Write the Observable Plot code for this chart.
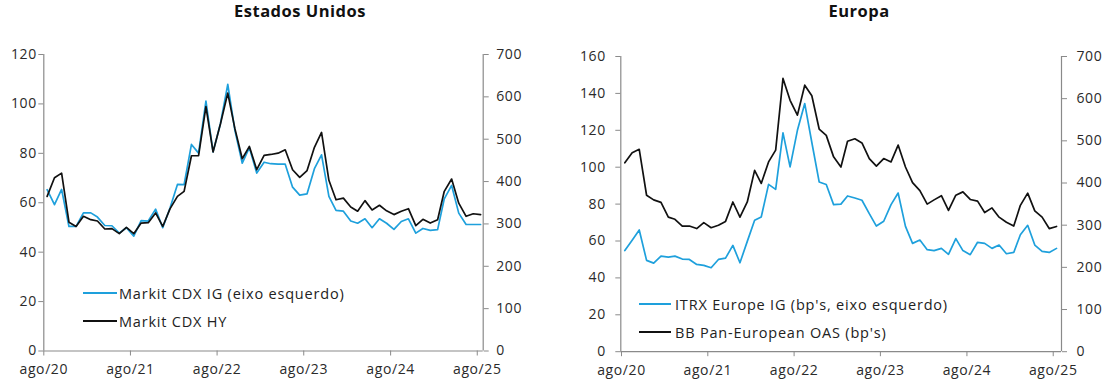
<!DOCTYPE html>
<html><head><meta charset="utf-8">
<script src="https://cdn.jsdelivr.net/npm/d3@7"></script>
<script src="https://cdn.jsdelivr.net/npm/@observablehq/plot@0.6"></script>
<style>
body{margin:0;background:#fff;font-family:"Open Sans",sans-serif;color:#222;}
#wrap{position:relative;width:1110px;height:385px;overflow:hidden;}
.title{position:absolute;top:0px;font-weight:bold;font-size:16.5px;line-height:22px;letter-spacing:0.5px;transform:translateX(-50%);white-space:nowrap;color:#111;}
.panel{position:absolute;top:30px;}
.leg{position:absolute;display:flex;align-items:center;height:20px;font-size:14.5px;letter-spacing:0.8px;white-space:nowrap;color:#222;}
.leg .sw{height:0;border-top-style:solid;border-top-width:2px;}
</style>
</head><body>
<div id="wrap"></div>
<script>
// ---- data ----
const startYear = 2020, startMonth = 7; // ago/2020 (0-based month)
const nMonths = 61;
const tickYears = [2020, 2021, 2022, 2023, 2024, 2025];
const tickLabels = ["ago/20", "ago/21", "ago/22", "ago/23", "ago/24", "ago/25"];

// Estados Unidos
const usIG = [65.3, 59.2, 65.4, 50.4, 50.4, 55.9, 55.9, 54.2, 50.8, 50.7, 47.7, 49.9, 46.5, 52.8, 52.6, 57.4,
  49.9, 58.0, 67.4, 67.3, 83.6, 80.1, 101.1, 80.6, 92.0, 107.9, 89.3, 76.0, 82.3, 72.0, 76.4,
  75.8, 75.6, 75.6, 66.3, 63.1, 63.6, 73.8, 79.4, 62.6, 56.9, 56.6, 52.6, 51.7, 53.5, 49.9,
  53.5, 51.7, 49.2, 52.4, 53.5, 47.7, 49.6, 48.8, 49.1, 61.6, 67.0, 55.8, 51.2, 51.2, 51.2];
const usHY = [365, 409, 420, 304, 294, 318, 310, 307, 288, 289, 277, 292, 277, 302, 303, 326,
  294, 336, 365, 377, 461, 461, 577, 470, 536, 609, 525, 454, 483, 428, 462,
  464, 467, 475, 428, 410, 426, 481, 516, 403, 357, 361, 340, 330, 355, 333,
  344, 331, 322, 330, 336, 296, 311, 302, 310, 377, 406, 349, 318, 324, 322];

// Europa
const euIG = [54.8, 60.4, 66.0, 49.5, 48.0, 51.8, 51.3, 51.8, 50.2, 50.0, 47.3, 46.8, 45.5, 50.0, 50.7, 57.6,
  48.2, 59.8, 71.2, 73.0, 90.7, 88.0, 118.6, 100.2, 120.0, 134.5, 113.4, 92.0, 90.6, 79.7, 80.0,
  84.4, 83.3, 82.1, 74.8, 68.1, 70.7, 79.7, 86.0, 67.9, 58.7, 60.5, 55.3, 54.8, 56.0, 52.8,
  61.3, 54.8, 52.6, 59.3, 58.7, 56.0, 57.8, 53.1, 53.8, 63.4, 68.5, 57.8, 54.4, 53.8, 56.0];
const euHY = [448, 472, 480, 371, 360, 354, 319, 314, 298, 298, 292, 306, 294, 300, 309, 355,
  319, 355, 430, 399, 450, 478, 648, 596, 561, 632, 607, 528, 513, 462, 438,
  499, 505, 495, 458, 440, 458, 450, 490, 438, 401, 382, 350, 360, 370, 335,
  371, 379, 361, 357, 330, 341, 319, 307, 298, 347, 376, 334, 319, 292, 297];

const rightTicks = [0, 100, 200, 300, 400, 500, 600, 700];

// ---- helpers ----
const months = d3.range(nMonths).map(i => new Date(Date.UTC(startYear, startMonth + i, 15)));
const tickDates = tickYears.map(y => new Date(Date.UTC(y, 7, 1)));
const fmtX = d => tickLabels[tickDates.findIndex(t => +t === +d)];
const AX = "#8a8a8a", TXT = "#2a2a2a", BLUE = "#1ea0dc", BLACK = "#111";

function panel(o) {
  const k = o.leftMax / 700;
  const igData = months.map((d, i) => ({date: d, v: o.ig[i]}));
  const hyData = months.map((d, i) => ({date: d, v: o.hy[i]}));
  const x0 = o.xDomain[0], x1 = o.xDomain[1];
  return Plot.plot({
    width: 555, height: 355,
    marginLeft: o.ml, marginRight: o.mr, marginTop: o.mt, marginBottom: o.mb,
    x: {type: "utc", domain: o.xDomain, label: null},
    y: {domain: [0, o.leftMax], label: null},
    style: {fontFamily: "Open Sans, sans-serif", fontSize: "14px", letterSpacing: "0.6px", color: TXT, background: "transparent", overflow: "visible"},
    marks: [
      Plot.ruleX([x0], {stroke: AX, strokeWidth: 1.2}),
      Plot.ruleX([x1], {stroke: AX, strokeWidth: 1.2}),
      Plot.ruleY([0], {stroke: AX, strokeWidth: 1.2}),
      Plot.axisY(d3.range(0, o.leftMax + 1, 20), {anchor: "left", tickSize: 5, tickPadding: o.lpad, stroke: AX, fill: TXT}),
      Plot.axisY(rightTicks.map(t => t * k), {anchor: "right", tickSize: 5, tickPadding: o.rpad, stroke: AX, fill: TXT, tickFormat: d => String(Math.round(d / k))}),
      Plot.axisX(tickDates, {anchor: "bottom", tickSize: 5, tickPadding: 8, stroke: AX, fill: TXT, tickFormat: fmtX}),
      Plot.lineY(igData, {x: "date", y: "v", stroke: BLUE, strokeWidth: 1.7}),
      Plot.lineY(hyData, {x: "date", y: d => d.v * k, stroke: BLACK, strokeWidth: 1.7})
    ]
  });
}

const wrap = document.getElementById("wrap");
function addTitle(text, cx) {
  const t = document.createElement("div");
  t.className = "title"; t.textContent = text; t.style.left = cx + "px";
  wrap.appendChild(t);
}
function addLegend(text, color, x, y, sw, gap) {
  const l = document.createElement("div");
  l.className = "leg"; l.style.left = x + "px"; l.style.top = (y - 10) + "px";
  const s = document.createElement("span");
  s.className = "sw"; s.style.width = sw + "px"; s.style.borderTopColor = color; s.style.marginRight = gap + "px";
  const tx = document.createElement("span"); tx.textContent = text;
  l.appendChild(s); l.appendChild(tx);
  wrap.appendChild(l);
}

addTitle("Estados Unidos", 300);
addTitle("Europa", 859);

const p1 = panel({ig: usIG, hy: usHY, leftMax: 120, ml: 43.3, mr: 72.3, mt: 24, mb: 34.5, lpad: 2, rpad: 8,
  xDomain: [new Date(Date.UTC(2020, 7, 1)), new Date(Date.UTC(2025, 7, 26))]});
p1.classList.add("panel"); p1.style.left = "0px";
wrap.appendChild(p1);

const p2 = panel({ig: euIG, hy: euHY, leftMax: 160, ml: 65.3, mr: 49, mt: 26, mb: 33.8, lpad: 10, rpad: 10,
  xDomain: [new Date(Date.UTC(2020, 6, 29)), new Date(Date.UTC(2025, 8, 5))]});
p2.classList.add("panel"); p2.style.left = "555px";
wrap.appendChild(p2);

addLegend("Markit CDX IG (eixo esquerdo)", BLUE, 83, 293, 34, 2);
addLegend("Markit CDX HY", BLACK, 83, 321, 34, 2);
addLegend("ITRX Europe IG (bp's, eixo esquerdo)", BLUE, 639, 304, 32, 4);
addLegend("BB Pan-European OAS (bp's)", BLACK, 639, 332, 32, 4);
</script>
</body></html>
